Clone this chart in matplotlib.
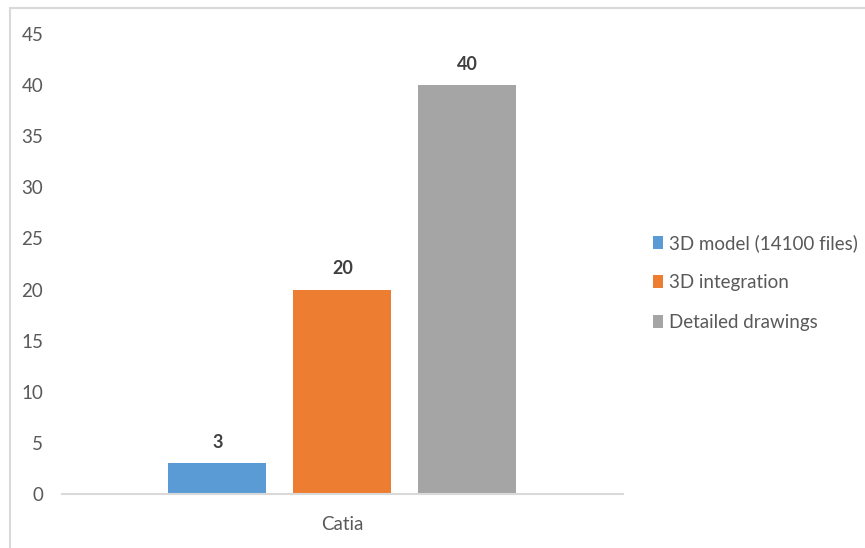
import matplotlib.pyplot as plt
from matplotlib.patches import Rectangle

categories = ['Catia']
series = ['3D model (14100 files)', '3D integration', 'Detailed drawings']
values = [3, 20, 40]
colors = ['#5B9BD5', '#ED7D31', '#A5A5A5']
yticks = [0, 5, 10, 15, 20, 25, 30, 35, 40, 45]

plt.rcParams['font.family'] = ['Lato', 'DejaVu Sans']

W, H = 865, 548
fig = plt.figure(figsize=(W / 100, H / 100), dpi=100)

# outer chart frame
fig.patches.append(Rectangle((10 / W, -0.1), 1.2, (H - 8) / H + 0.1,
                             transform=fig.transFigure, fill=False,
                             edgecolor='#d9d9d9', linewidth=1.5))

ax = fig.add_axes([62 / W, (H - 494) / H, (623 - 62) / W, (494 - 34) / H])

width = 98 / 561
step = 125 / 561
for i, (name, v, c) in enumerate(zip(series, values, colors)):
    x = (i - 1) * step
    ax.bar(x, v, width=width, color=c, label=name, zorder=2)
    ax.text(x, v + 1.2, str(v), ha='center', va='bottom',
            fontsize=13, fontweight='bold', color='#404040')

ax.set_xlim(-0.5, 0.5)
ax.set_ylim(0, 45)
ax.set_yticks(yticks)
ax.set_xticks([0])
ax.set_xticklabels(categories)
for s in ['top', 'right', 'left']:
    ax.spines[s].set_visible(False)
ax.spines['bottom'].set_color('#d9d9d9')
ax.spines['bottom'].set_linewidth(1.5)
ax.tick_params(axis='y', length=0, pad=13.5, labelsize=13.5, labelcolor='#595959')
ax.tick_params(axis='x', length=0, pad=16, labelsize=13.5, labelcolor='#595959')

leg = fig.legend(loc='upper left', bbox_to_anchor=(636 / W, (H - 217) / H),
                 frameon=False, handlelength=0.55, handleheight=0.7,
                 handletextpad=0.3, labelspacing=1.2, fontsize=13.5)
for t in leg.get_texts():
    t.set_color('#595959')

fig.savefig('out.png', dpi=100)
